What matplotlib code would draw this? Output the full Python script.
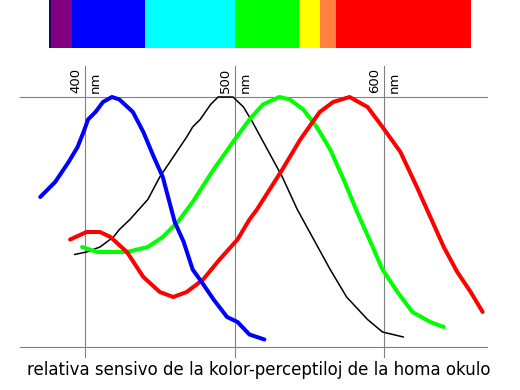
import matplotlib
matplotlib.use("Agg")
import matplotlib.pyplot as plt

# sensitivity curves: wavelength (nm) and relative sensitivity
blue_nm = [370, 380, 389, 395, 399, 402, 407, 412, 418, 423, 432, 439, 446,
           452, 456, 460, 466, 472, 478, 486, 495, 502, 510, 520]
blue_s = [0.60, 0.66, 0.74, 0.80, 0.86, 0.91, 0.94, 0.98, 1.00, 0.99, 0.94,
          0.86, 0.76, 0.68, 0.59, 0.50, 0.42, 0.31, 0.26, 0.19, 0.12, 0.10,
          0.05, 0.03]

black_nm = [393, 401, 410, 419, 423, 430, 442, 450, 459, 468, 472, 477, 484,
            489, 495, 499, 506, 512, 522, 532, 542, 553, 564, 575, 589, 599,
            613]
black_s = [0.37, 0.38, 0.40, 0.44, 0.47, 0.51, 0.59, 0.68, 0.76, 0.84, 0.88,
           0.91, 0.97, 1.00, 1.00, 1.00, 0.96, 0.90, 0.79, 0.68, 0.55, 0.43,
           0.31, 0.20, 0.11, 0.06, 0.04]

green_nm = [398, 408, 419, 428, 442, 452, 462, 472, 486, 499, 510, 519, 530,
            537, 546, 555, 564, 573, 582, 591, 599, 609, 619, 631, 640]
green_s = [0.40, 0.38, 0.38, 0.38, 0.40, 0.44, 0.50, 0.58, 0.71, 0.82, 0.91,
           0.97, 1.00, 0.99, 0.95, 0.88, 0.79, 0.67, 0.54, 0.42, 0.31, 0.22,
           0.14, 0.10, 0.08]

red_nm = [390, 401, 410, 417, 428, 439, 450, 459, 468, 479, 490, 502, 510,
          515, 532, 544, 557, 566, 577, 589, 599, 611, 622, 631, 640, 649,
          658, 666]
red_s = [0.43, 0.46, 0.46, 0.44, 0.38, 0.28, 0.22, 0.20, 0.22, 0.27, 0.35,
         0.43, 0.51, 0.55, 0.71, 0.83, 0.94, 0.98, 1.00, 0.96, 0.88, 0.78,
         0.64, 0.52, 0.40, 0.30, 0.22, 0.14]

# spectrum bar bands
band_edges = [376, 377, 391, 440, 500, 543, 557, 568, 658]
band_colors = ['#200070', '#800080', '#0000ff', '#00ffff', '#00ff00',
               '#ffff00', '#ff8040', '#ff0000']

tick_nm = [400, 500, 600]
caption = 'relativa sensivo de la kolor-perceptiloj de la homa okulo'

fig = plt.figure(figsize=(5.2, 3.9), dpi=100)
ax = fig.add_axes([0, 0, 1, 1])
ax.set_xlim(343.1, 691.0)
ax.set_ylim(-0.172, 1.388)
ax.axis('off')

# spectrum bar
for i, c in enumerate(band_colors):
    ax.fill_between([band_edges[i], band_edges[i + 1]], 1.196, 1.388,
                    color=c, linewidth=0)

# frame lines
for yv in [0, 1]:
    ax.plot([356.5, 669], [yv, yv], color='#808080', lw=0.8)
for xv in tick_nm:
    ax.plot([xv, xv], [-0.04, 1.124], color='#808080', lw=0.8)
    ax.text(xv - 1.8, 1.016, str(xv), rotation=90, ha='right', va='bottom',
            fontsize=9.5)
    ax.text(xv + 2.5, 1.016, 'nm', rotation=90, ha='left', va='bottom',
            fontsize=9.5)

line_kw = dict(solid_joinstyle='round', solid_capstyle='round')
ax.plot(black_nm, black_s, color='black', lw=1.1, **line_kw)
ax.plot(green_nm, green_s, color='#00ff00', lw=2.9, **line_kw)
ax.plot(red_nm, red_s, color='#ff0000', lw=2.9, **line_kw)
ax.plot(blue_nm, blue_s, color='#0000ff', lw=2.9, **line_kw)

ax.text(516, -0.093, caption, ha='center', va='center', fontsize=12)

fig.savefig('out.png', dpi=100)
